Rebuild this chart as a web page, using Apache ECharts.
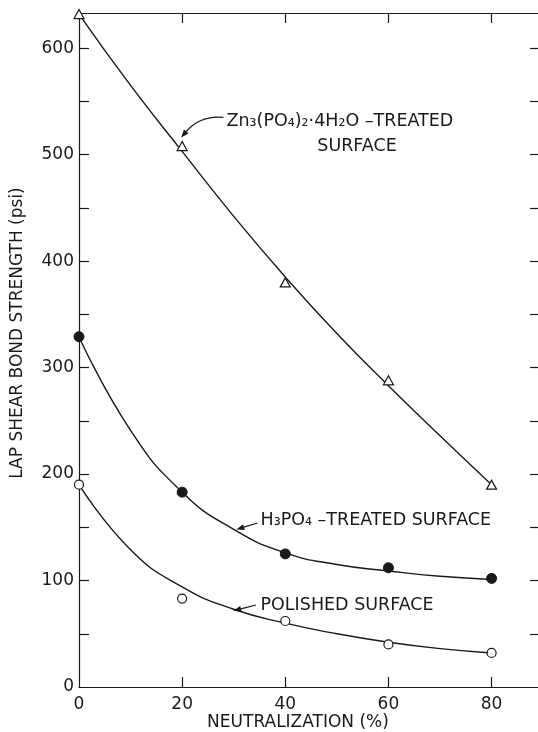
<!DOCTYPE html>
<html>
<head>
<meta charset="utf-8">
<script src="https://cdn.jsdelivr.net/npm/echarts@6/dist/echarts.min.js"></script>
<style>
  html, body { margin: 0; padding: 0; background: #fff; }
  #box { width: 538px; height: 732px; }
</style>
</head>
<body>
<div id="box"></div>
<script>
// measured points
var xs = [0, 20, 40, 60, 80];
var znPts = [632, 508, 380, 288, 190];
var h3Pts = [329, 183, 125, 112, 102];
var polPts = [190, 83, 62, 40, 32];

// fitted curves, every 10 %
var fitX = [0, 10, 20, 30, 40, 50, 60, 70, 80];
var znFit = [632, 565, 503, 442, 385, 332, 283, 236, 190];
var h3Fit = [329, 241, 183, 148, 126, 115, 109, 104, 101];
var polFit = [190, 129, 94, 73, 60, 50, 42, 36, 32];

// axis ticks
var xLabels = [0, 20, 40, 60, 80];
var xTicks = [20, 40, 60, 80];
var yLabels = [0, 100, 200, 300, 400, 500, 600];
var yTicks = [50, 100, 150, 200, 250, 300, 350, 400, 450, 500, 550, 600];

function pairs(x, y) {
  return x.map(function (v, i) { return [v, y[i]]; });
}

var ink = '#1a1a1a';
var font = '"DejaVu Sans", sans-serif';

var chartDom = document.getElementById('box');
var myChart = echarts.init(chartDom, null, { renderer: 'canvas' });
var option;

function curve(name, data) {
  return { name: name, type: 'line', smooth: 0.5, symbol: 'none', data: data,
    lineStyle: { color: ink, width: 1.4 }, z: 2 };
}

option = {
  backgroundColor: '#fff',
  animation: false,
  grid: { left: 79, right: 0, top: 13, bottom: 45 },
  xAxis: [
    {
      type: 'value', min: 0, max: 89, position: 'bottom',
      splitLine: { show: false },
      axisLine: { onZero: false, lineStyle: { color: ink, width: 1.2 } },
      axisTick: { inside: true, length: 10, customValues: xTicks, lineStyle: { color: ink, width: 1.2 } },
      axisLabel: { customValues: xLabels, margin: 9, color: ink, fontSize: 17, fontFamily: font }
    },
    {
      type: 'value', min: 0, max: 89, position: 'top',
      splitLine: { show: false },
      axisLine: { onZero: false, lineStyle: { color: ink, width: 1.2 } },
      axisTick: { inside: true, length: 10, customValues: xTicks, lineStyle: { color: ink, width: 1.2 } },
      axisLabel: { show: false }
    }
  ],
  yAxis: [
    {
      type: 'value', min: 0, max: 633, position: 'left',
      splitLine: { show: false },
      axisLine: { show: true, onZero: false, lineStyle: { color: ink, width: 1.2 } },
      axisTick: { show: true, inside: true, length: 10, customValues: yTicks, lineStyle: { color: ink, width: 1.2 } },
      axisLabel: { customValues: yLabels, margin: 5, color: ink, fontSize: 17, fontFamily: font }
    },
    {
      type: 'value', min: 0, max: 633, position: 'right',
      splitLine: { show: false },
      axisLine: { show: false, onZero: false },
      axisTick: { show: true, inside: true, length: 8, customValues: yTicks, lineStyle: { color: ink, width: 1.2 } },
      axisLabel: { show: false }
    }
  ],
  series: [
    curve('Zn fit', pairs(fitX, znFit)),
    curve('H3PO4 fit', pairs(fitX, h3Fit)),
    curve('Polished fit', pairs(fitX, polFit)),
    { name: 'Zn3(PO4)2·4H2O-treated', type: 'scatter', symbol: 'triangle', symbolSize: [10, 9],
      data: pairs(xs, znPts), itemStyle: { color: '#fff', borderColor: ink, borderWidth: 1.2, opacity: 1 }, z: 5 },
    { name: 'H3PO4-treated', type: 'scatter', symbol: 'circle', symbolSize: 10,
      data: pairs(xs, h3Pts), itemStyle: { color: ink, borderColor: ink, borderWidth: 1, opacity: 1 }, z: 5 },
    { name: 'Polished', type: 'scatter', symbol: 'circle', symbolSize: 9,
      data: pairs(xs, polPts), itemStyle: { color: '#fff', borderColor: ink, borderWidth: 1.2, opacity: 1 }, z: 5 }
  ]
};
option && myChart.setOption(option);

// curve labels with arrows, anchored in data units
var notes = [
  { lines: [['Zn₃(PO₄)₂·4H₂O –TREATED', 28.6, 531.5], ['SURFACE', 46.2, 508]],
    tail: [28.0, 535], ctrl: [23.5, 537], tip: [19.8, 516] },
  { lines: [['H₃PO₄ –TREATED SURFACE', 35.2, 156]],
    tail: [34.6, 154], ctrl: null, tip: [30.5, 148] },
  { lines: [['POLISHED SURFACE', 35.2, 77]],
    tail: [34.3, 77], ctrl: null, tip: [29.9, 71.5] }
];

function px(p) { return myChart.convertToPixel({ gridIndex: 0 }, p); }

var g = [];
notes.forEach(function (n) {
  n.lines.forEach(function (l) {
    var p = px([l[1], l[2]]);
    g.push({ type: 'text', x: p[0], y: p[1], z: 10,
      style: { text: l[0], fill: ink, fontSize: 17.5, fontFamily: font, align: 'left', verticalAlign: 'middle' } });
  });
  var a = px(n.tail), b = px(n.tip), c = n.ctrl ? px(n.ctrl) : null;
  var from = c || a;
  var ang = Math.atan2(b[1] - from[1], b[0] - from[0]);
  var hl = 8, hw = 3;
  var base = [b[0] - hl * Math.cos(ang), b[1] - hl * Math.sin(ang)];
  if (c) {
    g.push({ type: 'bezierCurve', z: 10, shape: { x1: a[0], y1: a[1], x2: base[0], y2: base[1], cpx1: c[0], cpy1: c[1] },
      style: { stroke: ink, lineWidth: 1.2, fill: null } });
  } else {
    g.push({ type: 'line', z: 10, shape: { x1: a[0], y1: a[1], x2: base[0], y2: base[1] },
      style: { stroke: ink, lineWidth: 1.2 } });
  }
  g.push({ type: 'polygon', z: 10, shape: { points: [
      b,
      [base[0] + hw * Math.sin(ang), base[1] - hw * Math.cos(ang)],
      [base[0] - hw * Math.sin(ang), base[1] + hw * Math.cos(ang)]
    ] }, style: { fill: ink } });
});

// axis titles
g.push({ type: 'text', x: 18, y: 333, rotation: Math.PI / 2, z: 10,
  style: { text: 'LAP SHEAR BOND STRENGTH (psi)', fill: ink, fontSize: 17, fontFamily: font, align: 'center', verticalAlign: 'middle' } });
g.push({ type: 'text', x: 298, y: 723, z: 10,
  style: { text: 'NEUTRALIZATION (%)', fill: ink, fontSize: 17, fontFamily: font, align: 'center', verticalAlign: 'middle' } });

myChart.setOption({ graphic: g });
</script>
</body>
</html>
